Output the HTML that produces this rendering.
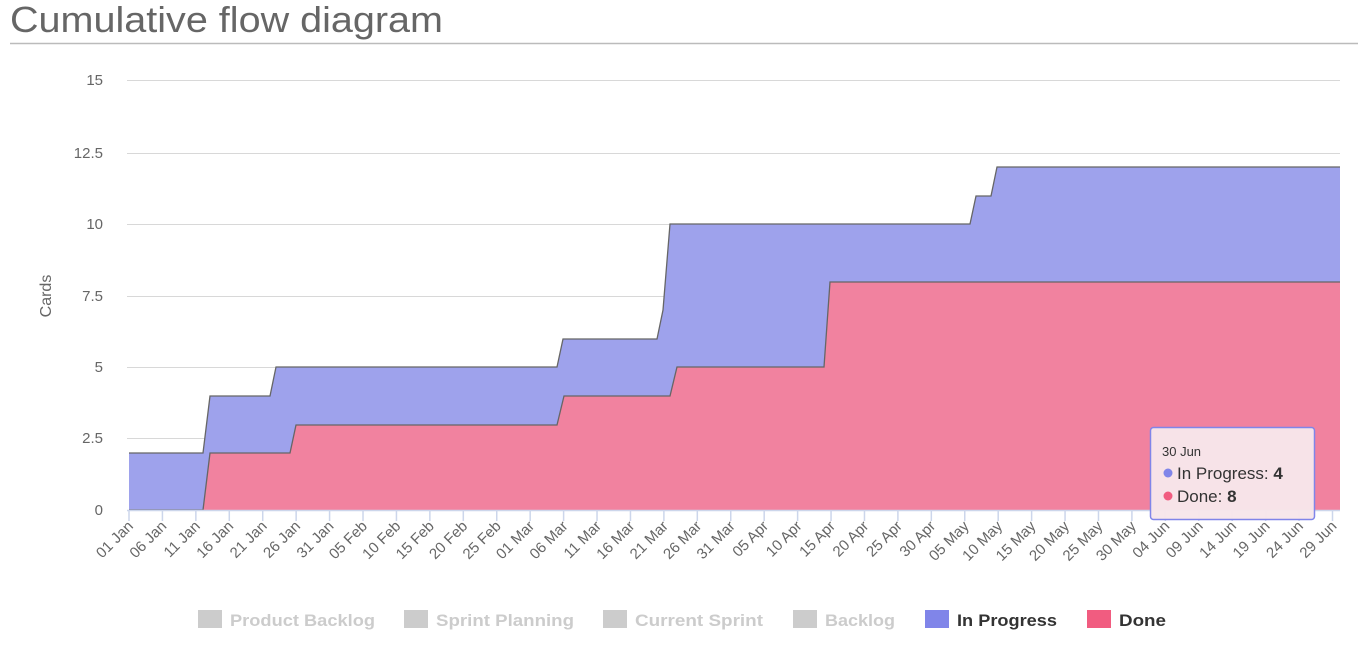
<!DOCTYPE html>
<html><head><meta charset="utf-8"><style>
html,body{margin:0;padding:0;background:#fff;width:1358px;height:646px;overflow:hidden;font-family:"Liberation Sans",sans-serif}
</style></head><body>
<svg id="s" width="1358" height="646" xmlns="http://www.w3.org/2000/svg" font-family="Liberation Sans, sans-serif">
<text x="10" y="32" font-size="36" fill="#666" textLength="433" lengthAdjust="spacingAndGlyphs">Cumulative flow diagram</text>
<line x1="10" y1="43.5" x2="1358" y2="43.5" stroke="#bbb" stroke-width="1.5"/>
<g stroke="#d8d8d8" stroke-width="1">
<line x1="127" y1="80.5" x2="1340" y2="80.5"/>
<line x1="127" y1="153.5" x2="1340" y2="153.5"/>
<line x1="127" y1="224.5" x2="1340" y2="224.5"/>
<line x1="127" y1="296.5" x2="1340" y2="296.5"/>
<line x1="127" y1="367.5" x2="1340" y2="367.5"/>
<line x1="127" y1="438.5" x2="1340" y2="438.5"/>
</g>
<g font-size="15" fill="#666" text-anchor="end">
<text x="103" y="85">15</text><text x="103" y="158">12.5</text><text x="103" y="229">10</text>
<text x="103" y="301">7.5</text><text x="103" y="372">5</text><text x="103" y="443">2.5</text><text x="103" y="515">0</text>
</g>
<text transform="translate(51,296) rotate(-90)" font-size="16" fill="#666" text-anchor="middle">Cards</text>
<path d="M129,510 L129,453 L203,453 L210,396 L270,396 L276,367 L557,367 L563,339 L657,339 L663,310 L670,224 L970,224 L976,196 L991,196 L997,167 L1340,167 L1340,510 Z" fill="#9ea2ec"/>
<path d="M129,510 L203,510 L210,453 L290,453 L296,425 L557,425 L564,396 L670,396 L677,367 L824,367 L830,282 L1340,282 L1340,510 Z" fill="#f1829f"/>
<path d="M129,453 L203,453 L210,396 L270,396 L276,367 L557,367 L563,339 L657,339 L663,310 L670,224 L970,224 L976,196 L991,196 L997,167 L1340,167" fill="none" stroke="#666" stroke-width="1.3"/>
<path d="M129,510 L203,510 L210,453 L290,453 L296,425 L557,425 L564,396 L670,396 L677,367 L824,367 L830,282 L1340,282" fill="none" stroke="#666" stroke-width="1.3"/>
<line x1="127" y1="510.5" x2="1340" y2="510.5" stroke="#ccd6eb" stroke-width="1.5"/>
<g id="ticks"></g>
<rect x="1150.5" y="427.5" width="164" height="92" rx="3" fill="#f7e6ea" fill-opacity="0.97" stroke="#8085e9" stroke-width="1.5"/>
<text x="1162" y="456" font-size="13" fill="#333">30 Jun</text>
<circle cx="1168" cy="473" r="4.5" fill="#8085e9"/>
<text x="1177" y="479" font-size="17" fill="#333">In Progress: <tspan font-weight="bold">4</tspan></text>
<circle cx="1168" cy="496" r="4.5" fill="#f15c80"/>
<text x="1177" y="502" font-size="17" fill="#333">Done: <tspan font-weight="bold">8</tspan></text>
<g font-size="17" font-weight="bold">
<rect x="198" y="610" width="24" height="18" fill="#ccc"/><text x="230" y="626" fill="#ccc" textLength="145" lengthAdjust="spacingAndGlyphs">Product Backlog</text>
<rect x="404" y="610" width="24" height="18" fill="#ccc"/><text x="436" y="626" fill="#ccc" textLength="138" lengthAdjust="spacingAndGlyphs">Sprint Planning</text>
<rect x="603" y="610" width="24" height="18" fill="#ccc"/><text x="635" y="626" fill="#ccc" textLength="128" lengthAdjust="spacingAndGlyphs">Current Sprint</text>
<rect x="793" y="610" width="24" height="18" fill="#ccc"/><text x="825" y="626" fill="#ccc" textLength="70" lengthAdjust="spacingAndGlyphs">Backlog</text>
<rect x="925" y="610" width="24" height="18" fill="#8085e9"/><text x="957" y="626" fill="#333" textLength="100" lengthAdjust="spacingAndGlyphs">In Progress</text>
<rect x="1087" y="610" width="24" height="18" fill="#f15c80"/><text x="1119" y="626" fill="#333" textLength="47" lengthAdjust="spacingAndGlyphs">Done</text>
</g>
</svg>
<script>
var labels=["01 Jan","06 Jan","11 Jan","16 Jan","21 Jan","26 Jan","31 Jan","05 Feb","10 Feb","15 Feb","20 Feb","25 Feb","01 Mar","06 Mar","11 Mar","16 Mar","21 Mar","26 Mar","31 Mar","05 Apr","10 Apr","15 Apr","20 Apr","25 Apr","30 Apr","05 May","10 May","15 May","20 May","25 May","30 May","04 Jun","09 Jun","14 Jun","19 Jun","24 Jun","29 Jun"];
var g=document.getElementById("ticks"),h="",step=(1332.5-129)/36;
labels.forEach(function(l,i){var x=129+i*step;
h+='<line x1="'+x+'" y1="511" x2="'+x+'" y2="521" stroke="#ccd6eb" stroke-width="1.5"/>';
h+='<text transform="translate('+(x+5)+',527) rotate(-45)" font-size="15" fill="#666" text-anchor="end">'+l+'</text>';});
g.innerHTML=h;
</script>
</body></html>
